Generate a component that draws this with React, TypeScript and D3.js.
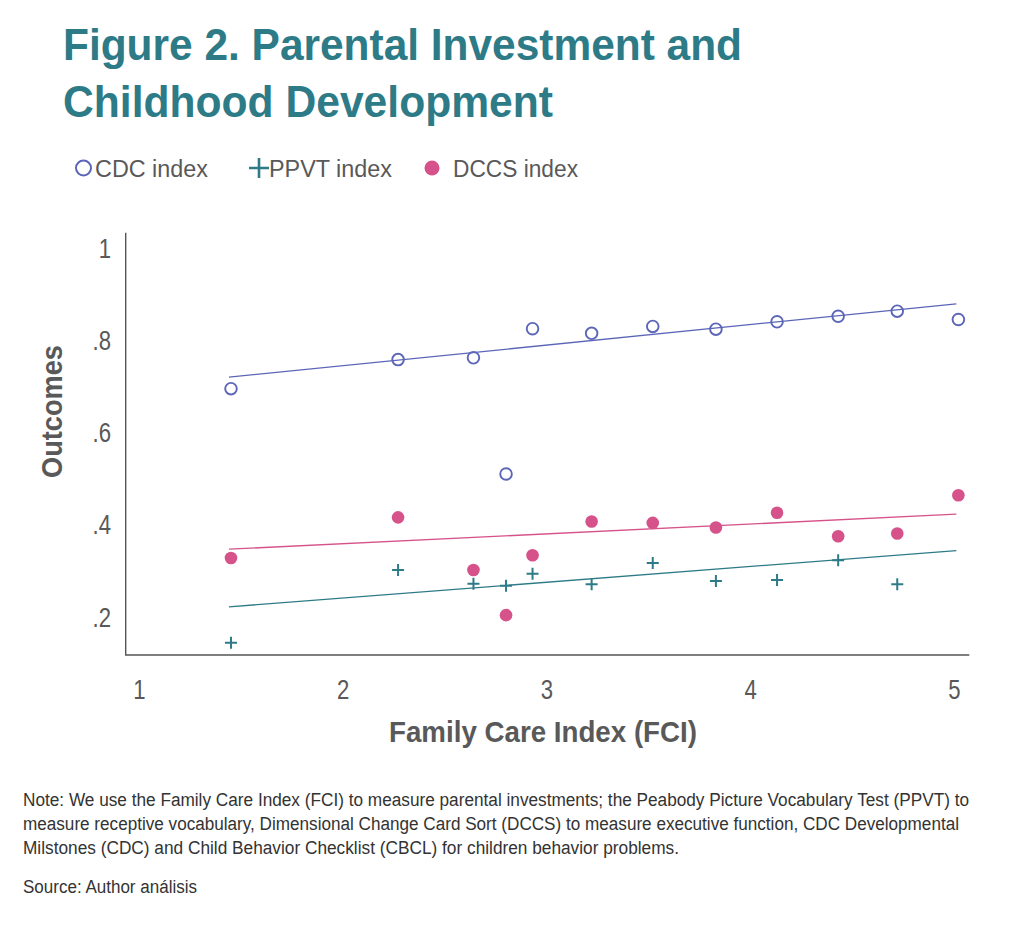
import React, { useRef, useEffect } from 'react';
import * as d3 from 'd3';

// binned FCI values (x) and mean outcomes per bin
const fciBins = [1.45, 2.27, 2.64, 2.8, 2.93, 3.22, 3.52, 3.83, 4.13, 4.43, 4.72, 5.02];
const cdcValues = [0.695, 0.758, 0.762, 0.51, 0.825, 0.815, 0.83, 0.824, 0.84, 0.852, 0.863, 0.845];
const ppvtValues = [0.144, 0.302, 0.272, 0.268, 0.294, 0.271, 0.317, 0.278, 0.28, 0.323, 0.271, null];
const dccsValues = [0.328, 0.416, 0.302, 0.204, 0.334, 0.407, 0.404, 0.394, 0.426, 0.375, 0.381, 0.464];

// linear fit endpoints
const fitRange = [1.44, 5.01];
const cdcFit = [0.72, 0.879];
const ppvtFit = [0.222, 0.344];
const dccsFit = [0.347, 0.423];

const xTicks = [1, 2, 3, 4, 5];
const yTicks = [0.2, 0.4, 0.6, 0.8, 1];

const titleLines = ['Figure 2. Parental Investment and', 'Childhood Development'];
const noteLines = [
  'Note: We use the Family Care Index (FCI) to measure parental investments; the Peabody Picture Vocabulary Test (PPVT) to',
  'measure receptive vocabulary, Dimensional Change Card Sort (DCCS) to measure executive function, CDC Developmental',
  'Milstones (CDC) and Child Behavior Checklist (CBCL) for children behavior problems.',
];
const sourceLine = 'Source: Author análisis';

const W = 1024;
const H = 933;
const NARROW = "'Liberation Sans Narrow', 'Arial Narrow', 'Liberation Sans', Arial, sans-serif";
const TEAL = '#2e7b88';
const BLUE = '#5c66b8';
const PINK = '#d6528a';
const GRAY = '#595959';

const App: React.FC = () => {
  const svgRef = useRef<SVGSVGElement>(null);

  useEffect(() => {
    if (!svgRef.current) return;
    const svg = d3.select(svgRef.current);
    svg.selectAll('*').remove();

    const x = d3.scaleLinear().domain([1, 5]).range([139.3, 954.3]);
    const y = d3.scaleLinear().domain([0.2, 1]).range([617, 248]);

    svg.append('rect').attr('width', W).attr('height', H).attr('fill', '#fff');

    // title
    const titleY = [59.5, 116.5];
    const titleLen = [679, 490];
    titleLines.forEach((t, i) => {
      svg.append('text')
        .attr('x', 63)
        .attr('y', titleY[i])
        .attr('font-family', NARROW)
        .attr('font-weight', 'bold')
        .attr('font-size', 43.5)
        .attr('fill', TEAL)
        .attr('textLength', titleLen[i])
        .attr('lengthAdjust', 'spacingAndGlyphs')
        .text(t);
    });

    // legend
    const leg = svg.append('g');
    leg.append('circle').attr('cx', 83.5).attr('cy', 168).attr('r', 7.5)
      .attr('fill', 'none').attr('stroke', BLUE).attr('stroke-width', 2);
    leg.append('path').attr('d', 'M249,168H269M259,158V178')
      .attr('stroke', TEAL).attr('stroke-width', 2.6);
    leg.append('circle').attr('cx', 432).attr('cy', 168).attr('r', 7.5).attr('fill', PINK);
    const legItems: [string, number, number][] = [
      ['CDC index', 95, 113],
      ['PPVT index', 269, 123],
      ['DCCS index', 453, 125],
    ];
    legItems.forEach(([t, lx, len]) => {
      leg.append('text')
        .attr('x', lx).attr('y', 176.5)
        .attr('font-family', NARROW).attr('font-size', 23)
        .attr('fill', GRAY)
        .attr('textLength', len).attr('lengthAdjust', 'spacingAndGlyphs')
        .text(t);
    });

    // axes
    svg.append('path')
      .attr('d', `M125.7,232.7V655H969.3`)
      .attr('fill', 'none').attr('stroke', '#555').attr('stroke-width', 1.4);

    svg.append('g').selectAll('text').data(yTicks).join('text')
      .attr('transform', (d) => `translate(111,${y(d)}) scale(0.82,1)`)
      .attr('dy', '0.36em')
      .attr('text-anchor', 'end')
      .attr('font-family', NARROW).attr('font-size', 27).attr('fill', GRAY)
      .text((d) => (d === 1 ? '1' : d3.format('.1f')(d).replace(/^0/, '')));

    svg.append('g').selectAll('text').data(xTicks).join('text')
      .attr('transform', (d) => `translate(${x(d)},699) scale(0.82,1)`)
      .attr('text-anchor', 'middle')
      .attr('font-family', NARROW).attr('font-size', 27).attr('fill', GRAY)
      .text((d) => String(d));

    svg.append('text')
      .attr('x', 543).attr('y', 742)
      .attr('text-anchor', 'middle')
      .attr('font-family', NARROW).attr('font-weight', 'bold').attr('font-size', 30)
      .attr('fill', GRAY)
      .attr('textLength', 308).attr('lengthAdjust', 'spacingAndGlyphs')
      .text('Family Care Index (FCI)');

    svg.append('text')
      .attr('transform', 'translate(61.5,411.5) rotate(-90)')
      .attr('text-anchor', 'middle')
      .attr('font-family', NARROW).attr('font-weight', 'bold').attr('font-size', 30)
      .attr('fill', GRAY)
      .attr('textLength', 133).attr('lengthAdjust', 'spacingAndGlyphs')
      .text('Outcomes');

    // fit lines
    const line = d3.line<[number, number]>().x((d) => x(d[0])).y((d) => y(d[1]));
    const fits: [number[], string][] = [[cdcFit, BLUE], [dccsFit, PINK], [ppvtFit, TEAL]];
    fits.forEach(([f, c]) => {
      svg.append('path')
        .attr('d', line([[fitRange[0], f[0]], [fitRange[1], f[1]]]))
        .attr('fill', 'none').attr('stroke', c).attr('stroke-width', 1.3);
    });

    // CDC hollow circles
    svg.append('g').selectAll('circle').data(fciBins.map((f, i) => [f, cdcValues[i]]))
      .join('circle')
      .attr('cx', (d) => x(d[0])).attr('cy', (d) => y(d[1])).attr('r', 5.8)
      .attr('fill', 'none').attr('stroke', BLUE).attr('stroke-width', 1.9);

    // PPVT plus markers
    const ppvtPts = fciBins
      .map((f, i) => [f, ppvtValues[i]])
      .filter((d) => d[1] != null) as [number, number][];
    svg.append('g').selectAll('path').data(ppvtPts).join('path')
      .attr('d', (d) => {
        const px = x(d[0]);
        const py = y(d[1]);
        return `M${px - 6},${py}H${px + 6}M${px},${py - 6}V${py + 6}`;
      })
      .attr('stroke', TEAL).attr('stroke-width', 2);

    // DCCS filled dots
    svg.append('g').selectAll('circle').data(fciBins.map((f, i) => [f, dccsValues[i]]))
      .join('circle')
      .attr('cx', (d) => x(d[0])).attr('cy', (d) => y(d[1])).attr('r', 6.3)
      .attr('fill', PINK);

    // notes
    const noteY = [806, 830, 854];
    const noteLen = [946, 936, 656];
    noteLines.forEach((t, i) => {
      svg.append('text')
        .attr('x', 23).attr('y', noteY[i])
        .attr('font-family', NARROW).attr('font-size', 18).attr('fill', '#333')
        .attr('textLength', noteLen[i]).attr('lengthAdjust', 'spacingAndGlyphs')
        .text(t);
    });
    svg.append('text')
      .attr('x', 23).attr('y', 893)
      .attr('font-family', NARROW).attr('font-size', 18).attr('fill', '#333')
      .attr('textLength', 174).attr('lengthAdjust', 'spacingAndGlyphs')
      .text(sourceLine);
  }, []);

  return (
    <div style={{ position: 'absolute', top: 0, left: 0 }}>
      <svg ref={svgRef} width={W} height={H} />
    </div>
  );
};

export default App;
